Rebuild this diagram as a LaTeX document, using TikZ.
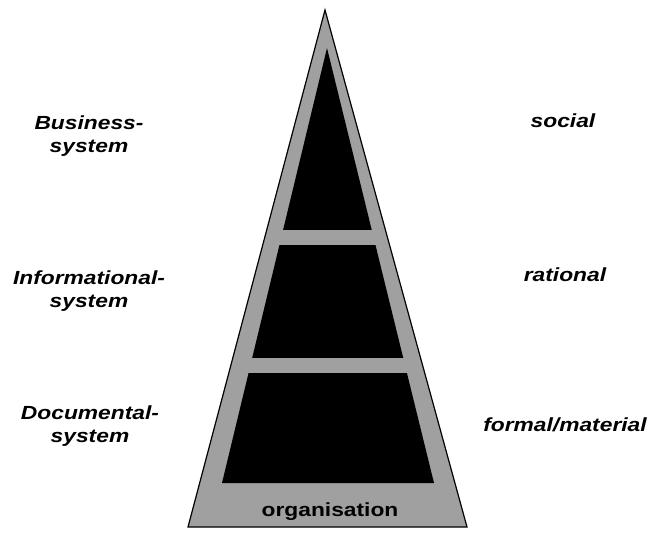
\documentclass[tikz,border=0pt]{standalone}
\usepackage{fontspec}
\newfontfamily\lblfont{Liberation Sans}[FakeStretch=1.2]
\usetikzlibrary{calc}
\definecolor{Stipple}{RGB}{160,160,160}

\begin{document}
\begin{tikzpicture}[x=1pt,y=-1pt,
    lbl/.style={font=\lblfont\fontsize{19}{23}\selectfont\bfseries\itshape,align=center,inner sep=0pt},
    base/.style={font=\lblfont\fontsize{19}{23}\selectfont\bfseries,inner sep=0pt},
    outer/.style={fill=Stipple,draw=black,line width=1.2pt,line join=miter},
    level/.style={fill=black}]

  \useasboundingbox (0,0) rectangle (651,536);

  % pyramid
  \coordinate (top) at (325,10);
  \coordinate (bl) at (188,527);
  \coordinate (br) at (467,527);
  \draw[outer] (top) -- (bl) -- (br) -- cycle;

  \coordinate (itop) at (327,48);
  \coordinate (ibl) at (222,483);
  \coordinate (ibr) at (434,483);
  \begin{scope}
    \clip (itop) -- (ibl) -- (ibr) -- cycle;
    \fill[level] (0,40) rectangle (651,230);
    \fill[level] (0,245) rectangle (651,358);
    \fill[level] (0,373) rectangle (651,490);
  \end{scope}

  \node[base] (org) at (330,512) {organisation};

  \node[lbl] (bus) at (89,136) {Business-\\system};
  \node[lbl] (inf) at (89,291) {Informational-\\system};
  \node[lbl] (doc) at (90,426) {Documental-\\system};

  \node[lbl] (soc) at (563,121) {social};
  \node[lbl] (rat) at (565,275) {rational};
  \node[lbl] (mat) at (565,425) {formal/material};
\end{tikzpicture}
\end{document}
